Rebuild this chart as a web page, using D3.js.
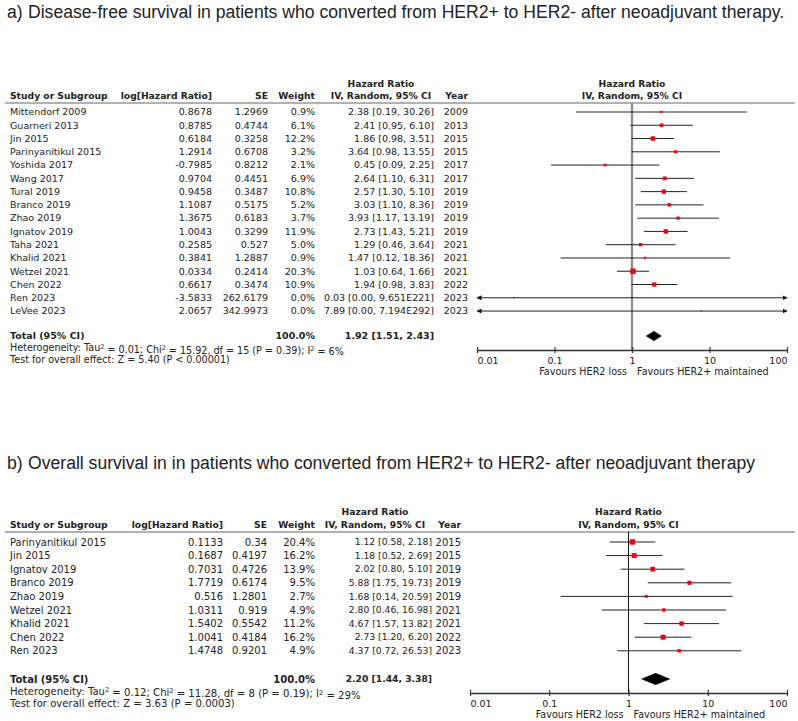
<!DOCTYPE html>
<html>
<head>
<meta charset="utf-8">
<script src="https://cdn.jsdelivr.net/npm/d3@7"></script>
<style>
  body { margin: 0; background: #fff; }
  text { fill: #222; }
</style>
</head>
<body>
<div id="chart"></div>
<script>
// panel a: disease-free survival
var studiesA = ["Mittendorf 2009", "Guarneri 2013", "Jin 2015", "Parinyanitikul 2015", "Yoshida 2017", "Wang 2017",
  "Tural 2019", "Branco 2019", "Zhao 2019", "Ignatov 2019", "Taha 2021", "Khalid 2021", "Wetzel 2021", "Chen 2022",
  "Ren 2023", "LeVee 2023"];
var logHrA = [0.8678, 0.8785, 0.6184, 1.2914, -0.7985, 0.9704, 0.9458, 1.1087, 1.3675, 1.0043, 0.2585, 0.3841, 0.0334, 0.6617, -3.5833, 2.0657];
var seA = [1.2969, 0.4744, 0.3258, 0.6708, 0.8212, 0.4451, 0.3487, 0.5175, 0.6183, 0.3299, 0.527, 1.2887, 0.2414, 0.3474, 262.6179, 342.9973];
var weightA = [0.9, 6.1, 12.2, 3.2, 2.1, 6.9, 10.8, 5.2, 3.7, 11.9, 5.0, 0.9, 20.3, 10.9, 0.0, 0.0];
var hrA = [2.38, 2.41, 1.86, 3.64, 0.45, 2.64, 2.57, 3.03, 3.93, 2.73, 1.29, 1.47, 1.03, 1.94, 0.03, 7.89];
var lowA = [0.19, 0.95, 0.98, 0.98, 0.09, 1.10, 1.30, 1.10, 1.17, 1.43, 0.46, 0.12, 0.64, 0.98, 0.00, 0.00];
var highA = [30.26, 6.10, 3.51, 13.55, 2.25, 6.31, 5.10, 8.36, 13.19, 5.21, 3.64, 18.36, 1.66, 3.83, 9.651e221, 7.194e292];
var yearsA = [2009, 2013, 2015, 2015, 2017, 2017, 2019, 2019, 2019, 2019, 2021, 2021, 2021, 2022, 2023, 2023];
var totalA = [1.92, 1.51, 2.43];
var hetA = ["0.01", "15.92", "15", "0.39", "6%"];
var testA = ["5.40", "P < 0.00001"];

// panel b: overall survival
var studiesB = ["Parinyanitikul 2015", "Jin 2015", "Ignatov 2019", "Branco 2019", "Zhao 2019", "Wetzel 2021",
  "Khalid 2021", "Chen 2022", "Ren 2023"];
var logHrB = [0.1133, 0.1687, 0.7031, 1.7719, 0.516, 1.0311, 1.5402, 1.0041, 1.4748];
var seB = [0.34, 0.4197, 0.4726, 0.6174, 1.2801, 0.919, 0.5542, 0.4184, 0.9201];
var weightB = [20.4, 16.2, 13.9, 9.5, 2.7, 4.9, 11.2, 16.2, 4.9];
var hrB = [1.12, 1.18, 2.02, 5.88, 1.68, 2.80, 4.67, 2.73, 4.37];
var lowB = [0.58, 0.52, 0.80, 1.75, 0.14, 0.46, 1.57, 1.20, 0.72];
var highB = [2.18, 2.69, 5.10, 19.73, 20.59, 16.98, 13.82, 6.20, 26.53];
var yearsB = [2015, 2015, 2019, 2019, 2019, 2021, 2021, 2022, 2023];
var totalB = [2.20, 1.44, 3.38];
var hetB = ["0.12", "11.28", "8", "0.19", "29%"];
var testB = ["3.63", "P = 0.0003"];

var ticks = [0.01, 0.1, 1, 10, 100];
var tickLabels = ["0.01", "0.1", "1", "10", "100"];

var svg = d3.select("#chart")
  .append("svg")
  .attr("width", 798)
  .attr("height", 721);

var defs = svg.append("defs");

defs.append("marker")
  .attr("id", "arrow")
  .attr("viewBox", "0 -5 10 10")
  .attr("refX", 9)
  .attr("markerWidth", 5)
  .attr("markerHeight", 5)
  .attr("markerUnits", "userSpaceOnUse")
  .attr("orient", "auto-start-reverse")
  .append("path")
  .attr("d", "M0,-5L10,0L0,5Z")
  .style("fill", "#111");

let fmt2 = d3.format(".2f");
let fmtCI = d => d >= 1e6 ? d.toExponential(3).replace("e+", "E") : fmt2(d);
let hrText = (h, l, u) => fmt2(h) + " [" + fmtCI(l) + ", " + fmtCI(u) + "]";

let titleText = (label, txt, y) => {
  svg.append("text").attr("x", 7).attr("y", y)
    .style("font-family", "Liberation Sans, Arial, sans-serif").style("font-size", "17.6px")
    .text(label);
  svg.append("text").attr("x", 28).attr("y", y)
    .style("font-family", "Liberation Sans, Arial, sans-serif").style("font-size", "17.6px")
    .text(txt);
};

titleText("a)", "Disease-free survival in patients who converted from HER2+ to HER2- after neoadjuvant therapy.", 18);
titleText("b)", "Overall survival in in patients who converted from HER2+ to HER2- after neoadjuvant therapy", 469);

function drawPanel(d, c) {
  var g = svg.append("g")
    .style("font-family", "DejaVu Sans, Verdana, sans-serif");

  var n = d.studies.length;
  var y = d3.scaleLinear().domain([0, n - 1]).range([c.rowTop, c.rowTop + (n - 1) * c.rowStep]);
  var x = d3.scaleLog().domain([0.01, 100]).range([c.x0, c.x1]);
  var size = d3.scaleSqrt().domain([0, 25]).range([1.5, 5.8]);

  // header
  var hdr = (txt, xp, yp, anchor) => g.append("text")
    .attr("x", xp).attr("y", yp).attr("dy", "0.35em")
    .attr("text-anchor", anchor)
    .style("font-size", "9.2px").style("font-weight", "bold")
    .text(txt);
  hdr("Hazard Ratio", c.hdrMid, c.hdr1, "middle");
  hdr("Hazard Ratio", x(1), c.hdr1, "middle");
  hdr("Study or Subgroup", 10, c.hdr2, "start");
  hdr("log[Hazard Ratio]", c.colLog, c.hdr2, "end");
  hdr("SE", c.colSe, c.hdr2, "end");
  hdr("Weight", c.colW, c.hdr2, "end");
  hdr("IV, Random, 95% CI", c.hdrMid, c.hdr2, "middle");
  hdr("Year", c.colYear, c.hdr2, "end");
  hdr("IV, Random, 95% CI", x(1), c.hdr2, "middle");

  g.append("line")
    .attr("x1", 5).attr("x2", 795)
    .attr("y1", c.line).attr("y2", c.line)
    .style("stroke", "#666").style("stroke-width", 1.2);

  // table rows
  var cols = [
    { x: 10, anchor: "start", fs: c.fs, f: (s, i) => s },
    { x: c.colLog, anchor: "end", fs: c.fs, f: (s, i) => String(d.logHr[i]) },
    { x: c.colSe, anchor: "end", fs: c.fs, f: (s, i) => String(d.se[i]) },
    { x: c.colW, anchor: "end", fs: c.fs, f: (s, i) => d3.format(".1f")(d.weight[i]) + "%" },
    { x: c.colHr, anchor: "end", fs: c.fsHr, f: (s, i) => hrText(d.hr[i], d.low[i], d.high[i]) },
    { x: c.colYear, anchor: "end", fs: c.fs, f: (s, i) => d.years[i] }
  ];
  cols.forEach(col => {
    g.selectAll(null)
      .data(d.studies)
      .enter().append("text")
      .attr("x", col.x)
      .attr("y", (s, i) => y(i))
      .attr("dy", "0.35em")
      .attr("text-anchor", col.anchor)
      .style("font-size", col.fs + "px")
      .text(col.f);
  });

  // no-effect line
  g.append("line")
    .attr("x1", x(1)).attr("x2", x(1))
    .attr("y1", c.line).attr("y2", c.axisY)
    .style("stroke", c.vColor).style("stroke-width", c.vWidth);

  // confidence intervals
  g.selectAll(null)
    .data(d.studies)
    .enter().append("line")
    .attr("x1", (s, i) => x(Math.max(d.low[i], 0.01)))
    .attr("x2", (s, i) => x(Math.min(d.high[i], 100)))
    .attr("y1", (s, i) => y(i))
    .attr("y2", (s, i) => y(i))
    .attr("marker-start", (s, i) => d.low[i] < 0.01 ? "url(#arrow)" : null)
    .attr("marker-end", (s, i) => d.high[i] > 100 ? "url(#arrow)" : null)
    .style("stroke", "#222")
    .style("stroke-width", 1);

  // study squares
  g.selectAll(null)
    .data(d.studies)
    .enter().append("rect")
    .attr("x", (s, i) => x(d.hr[i]) - size(d.weight[i]) / 2)
    .attr("y", (s, i) => y(i) - size(d.weight[i]) / 2)
    .attr("width", (s, i) => size(d.weight[i]))
    .attr("height", (s, i) => size(d.weight[i]))
    .style("fill", "#e30613");

  // total
  g.append("text")
    .attr("x", 10).attr("y", c.totalY).attr("dy", "0.35em")
    .style("font-size", c.fs + "px").style("font-weight", "bold")
    .text("Total (95% CI)");
  g.append("text")
    .attr("x", c.colW).attr("y", c.totalY).attr("dy", "0.35em")
    .attr("text-anchor", "end")
    .style("font-size", c.fs + "px").style("font-weight", "bold")
    .text("100.0%");
  g.append("text")
    .attr("x", c.colHr).attr("y", c.totalY).attr("dy", "0.35em")
    .attr("text-anchor", "end")
    .style("font-size", c.fsHr + "px").style("font-weight", "bold")
    .text(hrText(d.total[0], d.total[1], d.total[2]));

  g.append("path")
    .attr("d", "M" + x(d.total[1]) + "," + c.totalY +
      "L" + x(d.total[0]) + "," + (c.totalY - c.dh) +
      "L" + x(d.total[2]) + "," + c.totalY +
      "L" + x(d.total[0]) + "," + (c.totalY + c.dh) + "Z")
    .style("fill", "#000");

  var het = g.append("text")
    .attr("x", 10).attr("y", c.hetY).attr("dy", "0.35em")
    .style("font-size", c.fsNote + "px");
  het.append("tspan").text("Heterogeneity: Tau");
  het.append("tspan").attr("dy", "-0.4em").style("font-size", "6.5px").text("2");
  het.append("tspan").attr("dy", "0.4em").text(" = " + d.het[0] + "; Chi");
  het.append("tspan").attr("dy", "-0.4em").style("font-size", "6.5px").text("2");
  het.append("tspan").attr("dy", "0.4em").text(" = " + d.het[1] + ", df = " + d.het[2] + " (P = " + d.het[3] + "); I");
  het.append("tspan").attr("dy", "-0.4em").style("font-size", "6.5px").text("2");
  het.append("tspan").attr("dy", "0.4em").text(" = " + d.het[4]);

  g.append("text")
    .attr("x", 10).attr("y", c.testY).attr("dy", "0.35em")
    .style("font-size", c.fsNote + "px")
    .text("Test for overall effect: Z = " + d.test[0] + " (" + d.test[1] + ")");

  // axis
  var axis = g.append("g")
    .attr("transform", "translate(0," + c.axisY + ")")
    .call(d3.axisBottom(x)
      .tickValues(ticks)
      .tickFormat((t, i) => tickLabels[i])
      .tickSizeInner(3)
      .tickSizeOuter(0));
  axis.select(".domain").style("stroke", "#333").style("stroke-width", 1.4);
  axis.selectAll(".tick line").attr("y1", -3).style("stroke", "#333").style("stroke-width", 1.2);
  axis.selectAll(".tick text")
    .attr("y", c.tickY - c.axisY).attr("dy", "0.35em")
    .attr("text-anchor", (t, i) => i == 0 ? "start" : i == ticks.length - 1 ? "end" : "middle")
    .style("font-family", "DejaVu Sans, Verdana, sans-serif")
    .style("font-size", "9.5px")
    .style("fill", "#222");

  g.append("text")
    .attr("x", x(1) - 5).attr("y", c.favY).attr("dy", "0.35em")
    .attr("text-anchor", "end")
    .style("font-size", "9.6px")
    .text("Favours HER2 loss");
  g.append("text")
    .attr("x", x(1) + 5).attr("y", c.favY).attr("dy", "0.35em")
    .style("font-size", "9.6px")
    .text("Favours HER2+ maintained");
}

drawPanel(
  { studies: studiesA, logHr: logHrA, se: seA, weight: weightA, hr: hrA, low: lowA, high: highA,
    years: yearsA, total: totalA, het: hetA, test: testA },
  { hdr1: 84, hdr2: 96, line: 103, rowTop: 112, rowStep: 13.27, totalY: 336, hetY: 348, testY: 360,
    axisY: 350, tickY: 361, favY: 372, x0: 477, x1: 787, fs: 9.5, fsHr: 9.5, fsNote: 9.6, dh: 5,
    colLog: 212, colSe: 268, colW: 315, colHr: 434, colYear: 468, hdrMid: 381,
    vColor: "#8a8a8a", vWidth: 2.2 }
);

drawPanel(
  { studies: studiesB, logHr: logHrB, se: seB, weight: weightB, hr: hrB, low: lowB, high: highB,
    years: yearsB, total: totalB, het: hetB, test: testB },
  { hdr1: 512, hdr2: 525, line: 532, rowTop: 542, rowStep: 13.6, totalY: 679, hetY: 691, testY: 703,
    axisY: 693, tickY: 704, favY: 715, x0: 470, x1: 787, fs: 10, fsHr: 9.2, fsNote: 10.1, dh: 6,
    colLog: 223, colSe: 267, colW: 315, colHr: 432, colYear: 461, hdrMid: 375,
    vColor: "#111", vWidth: 1 }
);
</script>
</body>
</html>
